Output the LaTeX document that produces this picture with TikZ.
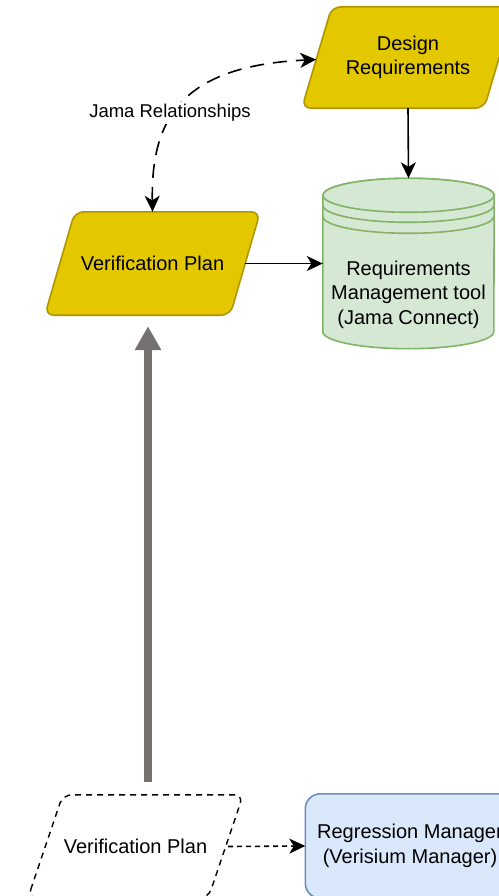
\documentclass[tikz,border=0pt]{standalone}
\usepackage{fontspec}
\setmainfont{Liberation Sans}
\usetikzlibrary{arrows.meta,calc,backgrounds}

\definecolor{ylwfill}{HTML}{E3C800}
\definecolor{ylwline}{HTML}{B09500}
\definecolor{grnfill}{HTML}{D5E8D4}
\definecolor{grnline}{HTML}{82B366}
\definecolor{blufill}{HTML}{DAE8FC}
\definecolor{bluline}{HTML}{6C8EBF}
\definecolor{arrowgray}{HTML}{767171}

\tikzset{
  txt/.style={inner sep=0pt, align=center, font=\fontsize{20}{24.5}\selectfont},
  smalltxt/.style={inner sep=2pt, align=center, fill=white, font=\fontsize{18.5}{22}\selectfont},
  yellowpara/.style={draw=ylwline, fill=ylwfill, line width=1.6pt, rounded corners=9pt},
  dashpara/.style={draw=black, line width=1.4pt, rounded corners=9pt, dash pattern=on 6pt off 5pt},
  datastore/.style={draw=grnline, fill=grnfill, line width=1.6pt},
  bluebox/.style={draw=bluline, fill=blufill, line width=1.6pt, rounded corners=15pt},
  tip/.tip={Stealth[length=16pt, width=15pt, inset=4.5pt]},
  link/.style={draw=black, line width=1.6pt, -tip},
  duallink/.style={link, tip-tip, dash pattern=on 14pt off 9pt},
  dotlink/.style={link, dash pattern=on 5pt off 4pt},
  bigarrow/.style={draw=arrowgray, line width=8pt, -{Triangle[length=24pt, width=25pt]}}
}

\begin{document}
\begin{tikzpicture}[x=1pt, y=-1pt]
  \useasboundingbox (0,0) rectangle (498,896);
  \clip (0,0) rectangle (498,896);

  % nodes holding the texts
  \node[txt, minimum width=212pt, minimum height=101pt] (dr) at (408,57.5) {Design\\Requirements};
  \node[txt, minimum width=215pt, minimum height=103pt] (vp) at (152.5,263.5) {Verification Plan};
  \node[minimum width=171pt, minimum height=170pt, inner sep=0pt] (rmt) at (408.5,263.5) {};
  \node[txt] (rmtlabel) at (408.5,294.5) {Requirements\\Management tool\\(Jama Connect)};
  \node[txt, minimum width=215pt, minimum height=103pt] (vpd) at (135.5,846.5) {Verification Plan};
  \node[txt, minimum width=205pt, minimum height=104pt] (rm) at (410,846) {Regression Manager\\(Verisium Manager)};

  \begin{pgfonlayer}{background}
    % parallelograms
    \draw[yellowpara] (dr.south west) -- ($(dr.north west)+(30,0)$) -- (dr.north east)
      -- ($(dr.south east)+(-30,0)$) -- cycle;
    \draw[yellowpara] (vp.south west) -- ($(vp.north west)+(30,0)$) -- (vp.north east)
      -- ($(vp.south east)+(-30,0)$) -- cycle;
    \draw[dashpara] (vpd.south west) -- ($(vpd.north west)+(35,0)$) -- (vpd.north east)
      -- ($(vpd.south east)+(-35,0)$) -- cycle;
    % regression manager box
    \draw[bluebox] ($(rm.south west)+(-2,0)$) rectangle (rm.north east);
    % requirements data store
    \draw[datastore] ($(rmt.north west)+(0,17)$) -- ($(rmt.south west)+(0,-17)$)
      arc[start angle=180, end angle=0, x radius=85.5, y radius=17]
      -- ($(rmt.north east)+(0,17)$)
      arc[start angle=0, end angle=-180, x radius=85.5, y radius=17] -- cycle;
    \draw[datastore] ($(rmt.north)+(0,17)$) ellipse [x radius=85.5, y radius=17];
    \draw[grnline, line width=1.6pt] ($(rmt.north west)+(0,27)$)
      arc[start angle=180, end angle=0, x radius=85.5, y radius=17];
    \draw[grnline, line width=1.6pt] ($(rmt.north west)+(0,38)$)
      arc[start angle=180, end angle=0, x radius=85.5, y radius=17];
  \end{pgfonlayer}

  % connectors
  \coordinate (drside) at ($(dr.south west)!0.48!($(dr.north west)+(30,0)$)$);
  \draw[duallink] (vp.north) .. controls (151,120) and (180,66) .. (drside);
  \node[smalltxt] (jama) at (170,113) {Jama Relationships};

  \draw[link] (dr.south) -- (rmt.north);
  \draw[link] ($(vp.east)+(-15,0)$) -- (rmt.west);
  \draw[dotlink] ($(vpd.east)+(-15,0)$) -- ($(rm.west)+(-2,0)$);
  \draw[bigarrow] ($(vpd.north)+(12.5,-13)$) -- ($(vp.south)+(-4.5,11)$);
\end{tikzpicture}
\end{document}
